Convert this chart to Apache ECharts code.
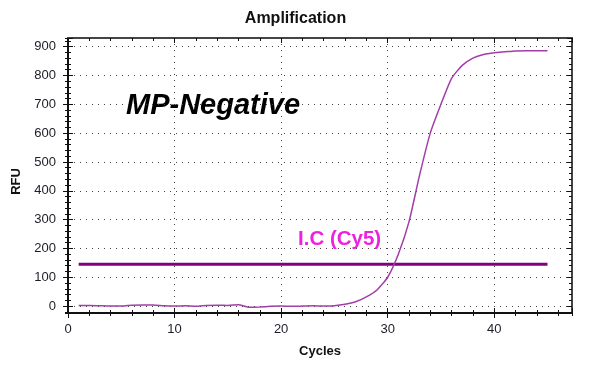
<!DOCTYPE html>
<html>
<head>
<meta charset="utf-8">
<script src="https://cdn.jsdelivr.net/npm/echarts@6/dist/echarts.min.js"></script>
<style>
html,body{margin:0;padding:0;background:#fff;}
#chart{width:591px;height:369px;}
</style>
</head>
<body>
<div id="chart"></div>
<script>
var cycles = [1,2,3,4,5,6,7,8,9,10,11,12,13,14,15,16,17,18,19,20,21,22,23,24,25,26,27,28,29,30,31,32,33,34,35,36,37,38,39,40,41,42,43,44,45];
var rfuValues = [2,2,1,0,0,3,4,4,1,0,1,-1,2,3,2,5,-4,-3,-1,0,-1,0,1,0,1,6,15,32,56,100,180,292,455,600,700,790,835,860,873,879,882,885,886,886,886];
var thresholdCycles = [1,45];
var thresholdValue = 145;
var titleText = 'Amplification';
var xName = 'Cycles';
var yName = 'RFU';
var sampleText = 'MP-Negative';
var channelText = 'I.C (Cy5)';

var FONT = '"Liberation Sans", Arial, sans-serif';
var XMIN = 0, XMAX = 47.3, YMIN = -24, YMAX = 930;

var curveData = cycles.map(function(c, i){ return [c, rfuValues[i]]; });
var thrData = thresholdCycles.map(function(c){ return [c, thresholdValue]; });

function xAx(opts){
  var base = {type:'value', min:XMIN, max:XMAX, position:'bottom',
    axisLine:{show:false, onZero:false}, axisTick:{show:false}, axisLabel:{show:false}, splitLine:{show:false}};
  return Object.assign(base, opts);
}
function yAx(opts){
  var base = {type:'value', min:YMIN, max:YMAX, position:'left',
    axisLine:{show:false, onZero:false}, axisTick:{show:false}, axisLabel:{show:false}, splitLine:{show:false}};
  return Object.assign(base, opts);
}
var tickStyle = {color:'#111', width:1};

var option = {
  animation:false,
  backgroundColor:'#fff',
  title:{text:titleText, left:'center', top:6, textStyle:{fontFamily:FONT, fontSize:16, fontWeight:'bold', color:'#111'}},
  grid:{left:68, right:19, top:38, bottom:56, show:false},
  xAxis:[
    xAx({interval:10, axisLine:{show:true, onZero:false, lineStyle:{color:'#111', width:2}},
      axisTick:{show:true, inside:false, length:5, lineStyle:tickStyle},
      axisLabel:{show:true, fontFamily:FONT, fontSize:13, color:'#1c1c28', margin:10, showMaxLabel:false},
      splitLine:{show:true, lineStyle:{color:'#444', width:1, type:[1,5]}},
      name:xName, nameLocation:'middle', nameGap:32,
      nameTextStyle:{fontFamily:FONT, fontSize:13, fontWeight:'bold', color:'#111'}}),
    xAx({interval:10, axisTick:{show:true, inside:true, length:5, lineStyle:tickStyle}}),
    xAx({interval:2, axisTick:{show:true, inside:false, length:3, lineStyle:tickStyle}}),
    xAx({interval:2, axisTick:{show:true, inside:true, length:3, lineStyle:tickStyle}}),
    xAx({position:'top', interval:2, axisLine:{show:true, onZero:false, lineStyle:{color:'#444', width:2}},
      axisTick:{show:true, inside:true, length:3, lineStyle:tickStyle}}),
    xAx({position:'top', interval:10, axisTick:{show:true, inside:true, length:5, lineStyle:tickStyle}})
  ],
  yAxis:[
    yAx({splitNumber:9, minInterval:100, maxInterval:100,
      axisLine:{show:true, onZero:false, lineStyle:{color:'#111', width:2}},
      axisTick:{show:true, inside:false, length:5, lineStyle:tickStyle},
      axisLabel:{show:true, fontFamily:FONT, fontSize:13, color:'#1c1c28', margin:12, showMinLabel:false, showMaxLabel:false,
        formatter:function(v){ return (v % 100 === 0) ? String(v) : ''; }},
      splitLine:{show:true, lineStyle:{color:'#444', width:1, type:[1,5]}},
      name:yName, nameLocation:'middle', nameGap:42, nameRotate:90,
      nameTextStyle:{fontFamily:FONT, fontSize:13, fontWeight:'bold', color:'#111', padding:[0,12,0,0]}}),
    yAx({splitNumber:9, minInterval:100, maxInterval:100, axisTick:{show:true, inside:true, length:5, lineStyle:tickStyle}}),
    yAx({splitNumber:47, minInterval:20, maxInterval:20, axisTick:{show:true, inside:false, length:3, lineStyle:tickStyle}}),
    yAx({splitNumber:47, minInterval:20, maxInterval:20, axisTick:{show:true, inside:true, length:3, lineStyle:tickStyle}}),
    yAx({position:'right', splitNumber:47, minInterval:20, maxInterval:20,
      axisLine:{show:true, onZero:false, lineStyle:{color:'#444', width:2}},
      axisTick:{show:true, inside:true, length:3, lineStyle:tickStyle}}),
    yAx({position:'right', splitNumber:9, minInterval:100, maxInterval:100, axisTick:{show:true, inside:true, length:5, lineStyle:tickStyle}})
  ],
  graphic:[
    {type:'text', left:126, top:91, style:{text:sampleText, fontFamily:FONT, fontSize:29, fontWeight:'bold', fontStyle:'italic', fill:'#000'}},
    {type:'text', left:298, top:229, style:{text:channelText, fontFamily:FONT, fontSize:20.5, fontWeight:'bold', fill:'#ee22dd'}}
  ],
  series:[
    {type:'line', xAxisIndex:0, yAxisIndex:0, data:thrData, symbol:'none', lineStyle:{color:'#800080', width:3}, z:3},
    {type:'line', xAxisIndex:0, yAxisIndex:0, data:curveData, symbol:'none', smooth:0.2, lineStyle:{color:'#a23ea8', width:1.5}, z:4}
  ]
};
var chart = echarts.init(document.getElementById('chart'), null, {renderer:'canvas'});
chart.setOption(option);
</script>
</body>
</html>
